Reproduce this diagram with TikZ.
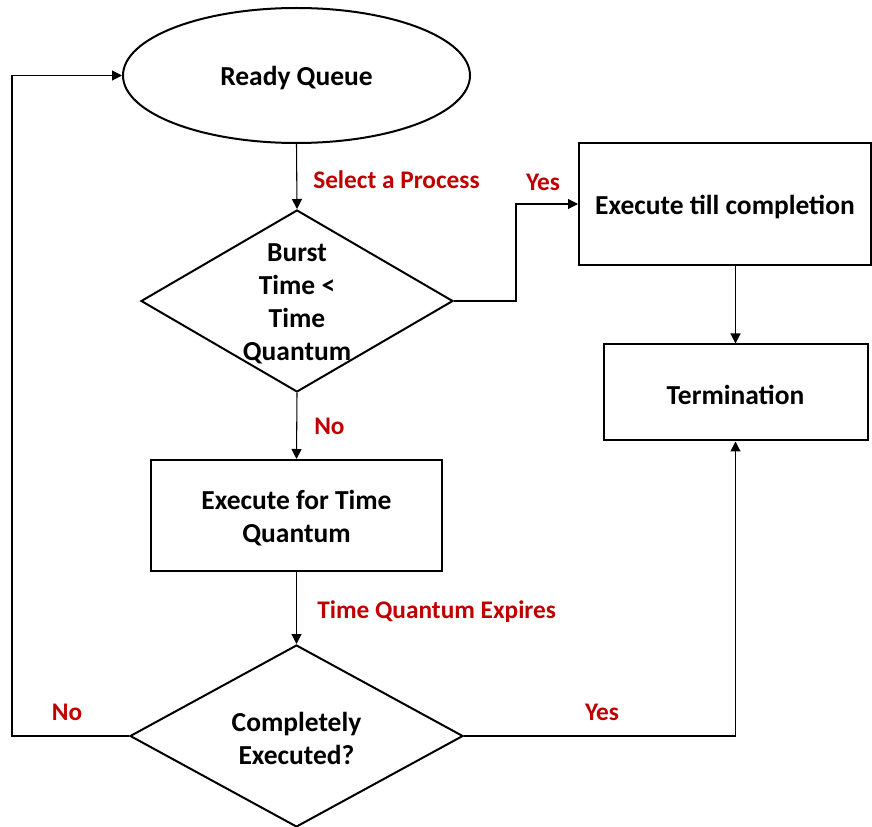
\documentclass[tikz,border=0pt]{standalone}
\usepackage{fontspec}
\setmainfont{Carlito}
\usetikzlibrary{shapes.geometric,arrows.meta}
\definecolor{lblred}{RGB}{192,0,0}
\begin{document}
\begin{tikzpicture}[x=0.75pt,y=-0.75pt,
  every node/.style={font=\bfseries\fontsize{20.6}{24.75}\selectfont, align=center},
  shapebox/.style={draw, line width=1.5pt, inner sep=0pt},
  blk/.style={shapebox, rectangle},
  decision/.style={shapebox, diamond},
  inside/.style={align=center, yshift=-2pt},
  conn/.style={line width=0.8pt, -{Triangle[length=7.5pt,width=7.5pt]}},
  lbl/.style={text=lblred, font=\bfseries\fontsize{19}{22}\selectfont, inner sep=0pt}]
\useasboundingbox (0,0) rectangle (872,827);

% shapes
\node[shapebox, ellipse, minimum width=347*0.75pt, minimum height=135*0.75pt] (rq) at (296.5,75.5) {};
\node[inside] (rqt) at (rq.center) {Ready Queue};
\node[decision, minimum width=312*0.75pt, minimum height=182*0.75pt] (d1) at (297,301) {};
\node[inside] (d1t) at (d1.center) {Burst\\Time <\\Time\\Quantum};
\node[blk, minimum width=292*0.75pt, minimum height=122*0.75pt] (etc) at (725,204) {};
\node[inside] (etct) at (etc.center) {Execute till completion};
\node[blk, minimum width=264*0.75pt, minimum height=96*0.75pt] (term) at (735.5,392.5) {};
\node[inside] (termt) at (term.center) {Termination};
\node[blk, minimum width=291*0.75pt, minimum height=111*0.75pt] (eq) at (296.5,515.5) {};
\node[inside] (eqt) at (eq.center) {Execute for Time\\Quantum};
\node[decision, minimum width=333*0.75pt, minimum height=182*0.75pt] (d2) at (296.5,736) {};
\node[inside] (d2t) at (d2.center) {Completely\\Executed?};

% bend points
\coordinate (yj) at (516,301);
\coordinate (lft) at (12,75.5);

% connectors
\draw[conn] (rq.south) -- (d1.north);
\draw[conn] (d1.east) -- (yj) |- (etc.west);
\draw[conn] (term.north |- etc.south) -- (term.north);
\draw[conn] (d1.south) -- (eq.north);
\draw[conn] (eq.south) -- (d2.north);
\draw[conn] (d2.west) -| (lft) -- (rq.west);
\draw[conn] (d2.east) -| (term.south);

% labels
\node[lbl, anchor=west] (lsel) at (313,180) {Select a Process};
\node[lbl] (ly1) at (543,182) {Yes};
\node[lbl, anchor=west] (ln1) at (314,426) {No};
\node[lbl, anchor=west] (ltq) at (317,612) {Time Quantum Expires};
\node[lbl] (ln2) at (67,712) {No};
\node[lbl] (ly2) at (602,712) {Yes};
\end{tikzpicture}
\end{document}
